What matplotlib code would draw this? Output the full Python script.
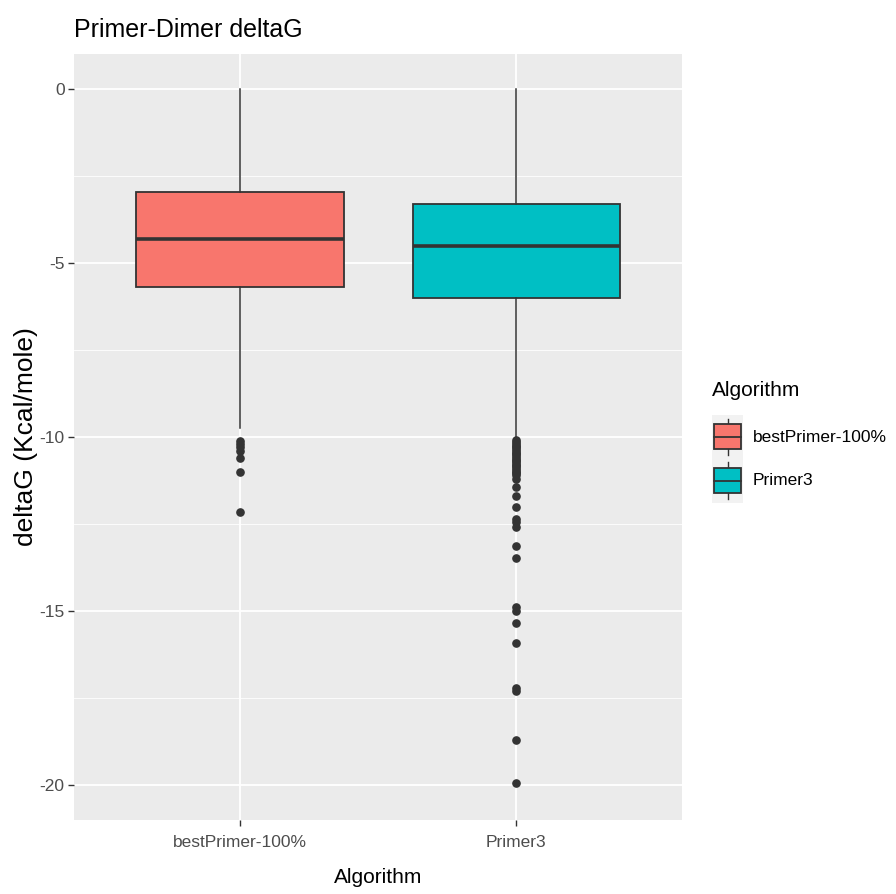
import matplotlib
matplotlib.use("Agg")
import matplotlib.pyplot as plt
from matplotlib.legend_handler import HandlerBase
from matplotlib.patches import Rectangle
from matplotlib.lines import Line2D

# ---- data -----------------------------------------------------------------
algorithms = ["bestPrimer-100%", "Primer3"]
colors = ["#F8766D", "#00BFC4"]
q1 = [-5.70, -6.02]
medians = [-4.32, -4.53]
q3 = [-2.98, -3.30]
whisker_low = [-9.75, -10.02]
whisker_high = [0.0, 0.0]
outliers_best = [-10.12, -10.2, -10.3, -10.4, -10.6, -11.02, -12.17]
outliers_primer3 = [-10.1, -10.15, -10.2, -10.25, -10.3, -10.35, -10.4, -10.45,
                    -10.5, -10.55, -10.6, -10.65, -10.7, -10.75, -10.8, -10.85,
                    -10.9, -10.95, -11.0, -11.05, -11.1, -11.2, -11.45, -11.7,
                    -12.0, -12.37, -12.45, -12.6, -13.14, -13.47, -14.88, -15.0,
                    -15.33, -15.92, -17.2, -17.3, -18.7, -19.95]
outliers = [outliers_best, outliers_primer3]
y_ticks = [0, -5, -10, -15, -20]

plt.rcParams["font.family"] = ["Liberation Sans", "DejaVu Sans"]

W, H = 896, 894
fig = plt.figure(figsize=(W / 100, H / 100), dpi=100)
ax = fig.add_axes([0.083, 0.0828, 0.678, 0.857])
ax.set_facecolor("#EBEBEB")

stats = []
for i, name in enumerate(algorithms):
    stats.append(dict(label=name, q1=q1[i], med=medians[i], q3=q3[i],
                      whislo=whisker_low[i], whishi=whisker_high[i],
                      fliers=outliers[i]))

positions = list(range(1, len(algorithms) + 1))
bp = ax.bxp(stats, positions=positions, widths=0.75, patch_artist=True,
            showcaps=False,
            boxprops=dict(edgecolor="#333333", linewidth=1.3),
            medianprops=dict(color="#333333", linewidth=2.6),
            whiskerprops=dict(color="#333333", linewidth=1.1),
            flierprops=dict(marker="o", markerfacecolor="#333333",
                            markeredgecolor="#333333", markersize=5.2,
                            linestyle="none"),
            zorder=3)
for patch, c in zip(bp["boxes"], colors):
    patch.set_facecolor(c)

ax.set_xlim(0.4, len(algorithms) + 0.6)
ax.set_ylim(-21, 1)
ax.set_xticks(positions)
ax.set_xticklabels(algorithms)
ax.set_yticks(y_ticks)
ax.set_yticklabels([str(v) for v in y_ticks])
ax.set_yticks([-2.5, -7.5, -12.5, -17.5], minor=True)

ax.grid(True, which="major", color="white", linewidth=1.3, zorder=0)
ax.grid(True, which="minor", axis="y", color="white", linewidth=0.6, zorder=0)
ax.set_axisbelow(True)
for s in ax.spines.values():
    s.set_visible(False)
ax.tick_params(axis="both", which="major", length=4, width=1.0, color="#333333",
               labelcolor="#4D4D4D", labelsize=12.5)
ax.tick_params(axis="x", which="major", pad=7)
ax.tick_params(axis="y", which="major", pad=3)
ax.tick_params(axis="both", which="minor", length=0)

ax.set_xlabel("Algorithm", fontsize=15, color="black", labelpad=13)
ax.set_ylabel("deltaG (Kcal/mole)", fontsize=19, color="black", labelpad=1)
fig.text(0.083, 0.966, "Primer-Dimer deltaG", fontsize=18, ha="left", va="center")


class BoxKeyHandler(HandlerBase):
    def __init__(self, face):
        super().__init__()
        self.face = face

    def create_artists(self, legend, orig_handle, xdescent, ydescent,
                       width, height, fontsize, trans):
        bg = Rectangle((-xdescent, -ydescent), width, height,
                       facecolor="#F2F2F2", edgecolor="none", transform=trans)
        cx = -xdescent + width / 2
        whisk = Line2D([cx, cx], [-ydescent + height * 0.08, -ydescent + height * 0.92],
                       color="#333333", lw=1.0, transform=trans)
        bw, bh = width * 0.84, height * 0.57
        box = Rectangle((cx - bw / 2, -ydescent + (height - bh) / 2), bw, bh,
                        facecolor=self.face, edgecolor="#333333", lw=1.3,
                        transform=trans)
        mid = Line2D([cx - bw / 2, cx + bw / 2], [-ydescent + height / 2] * 2,
                     color="#333333", lw=1.3, transform=trans)
        return [bg, whisk, box, mid]


# legend title drawn as its own text, keys placed just below it
fig.text(712 / W, 1 - 396 / H, "Algorithm", fontsize=15, ha="left", va="baseline")
handles = [Rectangle((0, 0), 1, 1) for _ in algorithms]
leg = ax.legend(handles, algorithms,
                handler_map={h: BoxKeyHandler(c) for h, c in zip(handles, colors)},
                loc="upper left", bbox_to_anchor=(712 / W, 1 - 415 / H),
                bbox_transform=fig.transFigure,
                frameon=False, fontsize=12.5, borderpad=0.0,
                handlelength=1.79, handleheight=3.5, handletextpad=0.55,
                labelspacing=0.0, borderaxespad=0.0)

fig.savefig("out.png", dpi=100)
